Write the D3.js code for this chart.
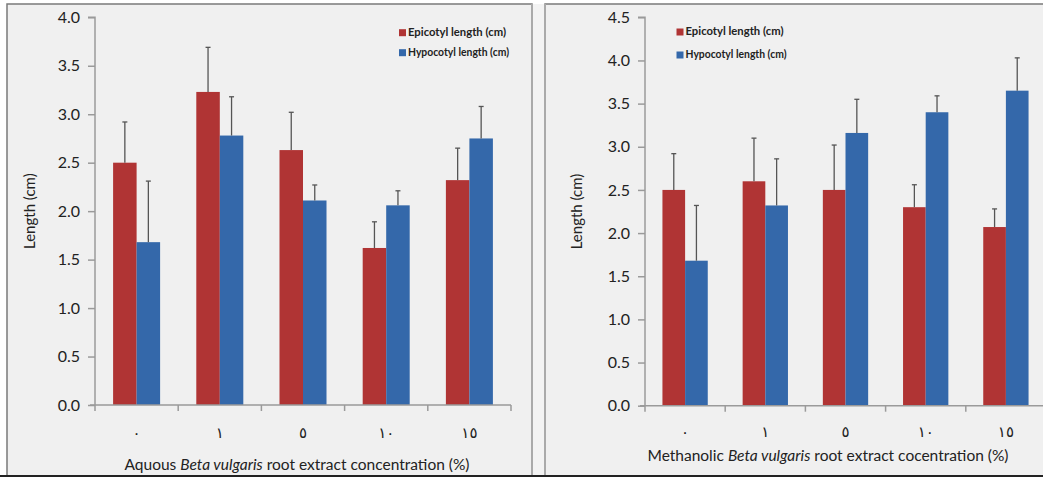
<!DOCTYPE html>
<html>
<head>
<meta charset="utf-8">
<script src="https://cdn.jsdelivr.net/npm/d3@7"></script>
<style>
  body { margin: 0; background: #fff; }
  text { font-family: Lato, "DejaVu Sans", sans-serif; fill: #222; }
</style>
</head>
<body>
<script>
// concentrations (%), shown with Arabic-Indic digits
var categories = ["٠", "١", "٥", "١٠", "١٥"];
var seriesNames = ["Epicotyl length (cm)", "Hypocotyl length (cm)"];

// aqueous extract
var aqEpicotyl = [2.50, 3.23, 2.63, 1.62, 2.32];
var aqEpicotylErr = [0.42, 0.46, 0.39, 0.27, 0.33];
var aqHypocotyl = [1.68, 2.78, 2.11, 2.06, 2.75];
var aqHypocotylErr = [0.63, 0.40, 0.16, 0.15, 0.33];

// methanolic extract
var meEpicotyl = [2.50, 2.60, 2.50, 2.30, 2.07];
var meEpicotylErr = [0.42, 0.50, 0.52, 0.26, 0.21];
var meHypocotyl = [1.68, 2.32, 3.16, 3.40, 3.65];
var meHypocotylErr = [0.64, 0.54, 0.39, 0.19, 0.38];

var yTicksLeft = [0, 0.5, 1, 1.5, 2, 2.5, 3, 3.5, 4];
var yTicksRight = [0, 0.5, 1, 1.5, 2, 2.5, 3, 3.5, 4, 4.5];

var colors = ["#B03434", "#3468AA"];

var W = 1043, H = 477;
var svg = d3.select("body").append("svg")
  .attr("width", W)
  .attr("height", H);

// panel frames
svg.append("rect").attr("x", 7).attr("y", 4).attr("width", 525).attr("height", 472)
  .attr("fill", "#f0f0f0").attr("stroke", "#7a7a7a").attr("stroke-width", 1.5);
svg.append("rect").attr("x", 532).attr("y", 4).attr("width", 13).attr("height", 472)
  .attr("fill", "#f3f3f3");
svg.append("rect").attr("x", 545).attr("y", 4).attr("width", 510).attr("height", 472)
  .attr("fill", "#f0f0f0").attr("stroke", "#7a7a7a").attr("stroke-width", 1.5);
svg.append("line").attr("x1", 532).attr("x2", 532).attr("y1", 4).attr("y2", 476)
  .attr("stroke", "#aaa").attr("stroke-width", 2);
svg.append("line").attr("x1", 545).attr("x2", 545).attr("y1", 4).attr("y2", 476)
  .attr("stroke", "#aaa").attr("stroke-width", 2);
svg.append("line").attr("x1", 0).attr("x2", W).attr("y1", 476).attr("y2", 476)
  .attr("stroke", "#222").attr("stroke-width", 2);

function drawPanel(p) {
  var g = svg.append("g");

  var x0 = d3.scaleBand()
    .domain(categories)
    .range([p.left, p.right])
    .padding(0);

  var groupW = x0.bandwidth() * 0.565;
  var x1 = d3.scaleBand()
    .domain(seriesNames)
    .range([(x0.bandwidth() - groupW) / 2, (x0.bandwidth() + groupW) / 2]);

  var y = d3.scaleLinear()
    .domain([0, p.yMax])
    .range([p.bottom, p.top]);

  var rows = categories.map(function(c, i) {
    return [
      { cat: c, s: seriesNames[0], v: p.epi[i], e: p.epiErr[i] },
      { cat: c, s: seriesNames[1], v: p.hyp[i], e: p.hypErr[i] }
    ];
  });
  var flat = d3.merge(rows);

  // bars
  g.selectAll("rect.bar")
    .data(flat)
    .enter()
    .append("rect")
    .attr("class", "bar")
    .attr("x", function(d) { return x0(d.cat) + x1(d.s); })
    .attr("y", function(d) { return y(d.v); })
    .attr("width", x1.bandwidth())
    .attr("height", function(d) { return y(0) - y(d.v); })
    .attr("fill", function(d) { return d.s === seriesNames[0] ? colors[0] : colors[1]; });

  // error bars (upper only)
  var eb = g.selectAll("g.err")
    .data(flat)
    .enter()
    .append("g")
    .attr("class", "err")
    .attr("stroke", "#555")
    .attr("stroke-width", 1.3);
  eb.append("line")
    .attr("x1", function(d) { return x0(d.cat) + x1(d.s) + x1.bandwidth() / 2; })
    .attr("x2", function(d) { return x0(d.cat) + x1(d.s) + x1.bandwidth() / 2; })
    .attr("y1", function(d) { return y(d.v); })
    .attr("y2", function(d) { return y(d.v + d.e); });
  eb.append("line")
    .attr("x1", function(d) { return x0(d.cat) + x1(d.s) + x1.bandwidth() / 2 - 2.5; })
    .attr("x2", function(d) { return x0(d.cat) + x1(d.s) + x1.bandwidth() / 2 + 2.5; })
    .attr("y1", function(d) { return y(d.v + d.e); })
    .attr("y2", function(d) { return y(d.v + d.e); });

  // y axis
  var yAxis = g.append("g")
    .attr("transform", "translate(" + p.left + ",0)")
    .call(d3.axisLeft(y).tickValues(p.yTicks).tickFormat(d3.format(".1f")).tickSize(7).tickPadding(8));
  yAxis.selectAll("path, line").attr("stroke", "#9a9a9a").attr("stroke-width", 1.5);
  yAxis.select(".domain").attr("d", "M" + (-7) + "," + p.top + "H0V" + p.bottom);
  yAxis.selectAll("text").style("font-size", "16px").attr("fill", "#222");

  // x axis: ticks at band edges
  var edges = categories.map(function(c) { return x0(c); }).concat([p.right]);
  var xAxis = g.append("g");
  xAxis.append("line")
    .attr("x1", p.left - 5).attr("x2", p.right)
    .attr("y1", p.bottom).attr("y2", p.bottom)
    .attr("stroke", "#9a9a9a").attr("stroke-width", 1.5);
  xAxis.selectAll("line.tk")
    .data(edges)
    .enter()
    .append("line")
    .attr("class", "tk")
    .attr("x1", function(d) { return d; }).attr("x2", function(d) { return d; })
    .attr("y1", p.bottom).attr("y2", p.bottom + 6)
    .attr("stroke", "#9a9a9a").attr("stroke-width", 1.5);
  xAxis.selectAll("text.cat")
    .data(categories)
    .enter()
    .append("text")
    .attr("class", "cat")
    .attr("x", function(d) { return x0(d) + x0.bandwidth() / 2; })
    .attr("y", p.catY)
    .attr("text-anchor", "middle")
    .attr("dominant-baseline", "middle")
    .style("font-family", "'DejaVu Sans', sans-serif")
    .style("font-size", "15px")
    .text(function(d) { return d; });

  // axis titles
  var xt = g.append("text")
    .attr("x", p.titleX)
    .attr("y", p.titleY)
    .attr("text-anchor", "middle")
    .style("font-size", "15.5px");
  xt.append("tspan").text(p.titlePre);
  xt.append("tspan").style("font-style", "italic").text("Beta vulgaris");
  xt.append("tspan").text(" root extract " + p.titlePost);

  g.append("text")
    .attr("transform", "translate(" + p.yLabelX + "," + ((p.top + p.bottom) / 2) + ") rotate(-90)")
    .attr("text-anchor", "middle")
    .style("font-size", "15px")
    .text("Length (cm)");

  // legend
  var lg = g.selectAll("g.leg")
    .data(seriesNames)
    .enter()
    .append("g")
    .attr("class", "leg")
    .attr("transform", function(d, i) { return "translate(" + p.legX + "," + p.legY[i] + ")"; });
  lg.append("rect")
    .attr("x", 0).attr("y", -3.5).attr("width", 7).attr("height", 7)
    .attr("fill", function(d, i) { return colors[i]; });
  lg.append("text")
    .attr("x", 9)
    .attr("y", 0)
    .attr("dominant-baseline", "middle")
    .attr("textLength", function(d, i) { return i === 0 ? 98 : 101; })
    .attr("lengthAdjust", "spacingAndGlyphs")
    .style("font-size", "12px")
    .style("font-weight", "bold")
    .text(function(d) { return d; });
}

drawPanel({
  left: 95, right: 511, top: 17.3, bottom: 405, yMax: 4, yTicks: yTicksLeft,
  epi: aqEpicotyl, epiErr: aqEpicotylErr, hyp: aqHypocotyl, hypErr: aqHypocotylErr,
  catY: 433, titleX: 297, titleY: 470, titlePre: "Aquous ", titlePost: "concentration (%)",
  yLabelX: 35, legX: 399, legY: [32.7, 52.7]
});

drawPanel({
  left: 645, right: 1046, top: 17.3, bottom: 405.7, yMax: 4.5, yTicks: yTicksRight,
  epi: meEpicotyl, epiErr: meEpicotylErr, hyp: meHypocotyl, hypErr: meHypocotylErr,
  catY: 432.5, titleX: 828, titleY: 461, titlePre: "Methanolic ", titlePost: "cocentration (%)",
  yLabelX: 582, legX: 676.5, legY: [32, 55]
});
</script>
</body>
</html>
